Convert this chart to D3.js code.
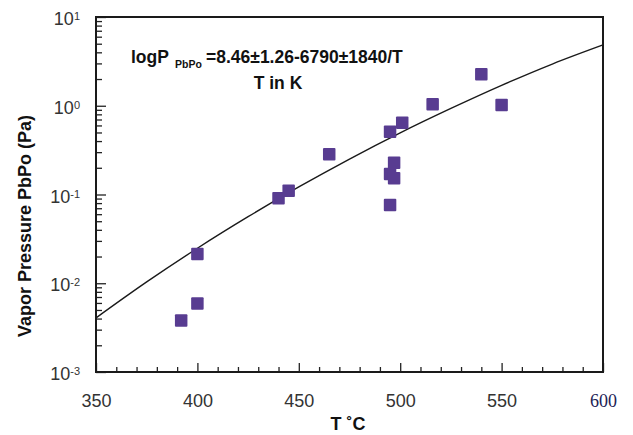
<!DOCTYPE html>
<html>
<head>
<meta charset="utf-8">
<script src="https://cdn.jsdelivr.net/npm/d3@7"></script>
<style>
  body { margin: 0; background: #fff; }
  svg { display: block; font-family: "Liberation Sans", Arial, Helvetica, sans-serif; }
</style>
</head>
<body>
<div id="chart"></div>
<script>
// measured points (T in °C, vapor pressure in Pa)
const tempC    = [392, 400, 400, 440, 445, 465, 495, 501, 516, 540, 550, 497, 495, 497, 495];
const pressure = [0.0038, 0.0059, 0.0214, 0.091, 0.110, 0.284, 0.51, 0.644, 1.04, 2.26, 1.02, 0.228, 0.170, 0.152, 0.076];

// fitted line
const fitT = [350, 375, 400, 425, 450, 475, 500, 525, 550, 575, 600];
const fitP = [0.00407, 0.01035, 0.0248, 0.0562, 0.1216, 0.251, 0.4955, 0.933, 1.698, 2.951, 4.842];

const xTicks = [350, 400, 450, 500, 550, 600];
const yTicks = [1e-3, 1e-2, 1e-1, 1, 10];
const yExp   = ["-3", "-2", "-1", "0", "1"];

const width = 633, height = 435;
const margin = {top: 17, right: 30, bottom: 63, left: 96};

const x = d3.scaleLinear().domain([350, 600]).range([margin.left, width - margin.right]);
const y = d3.scaleLog().domain([1e-3, 10]).range([height - margin.bottom, margin.top]);

const svg = d3.select("#chart").append("svg").attr("width", width).attr("height", height);

// minor ticks
const xMinor = d3.range(350, 601, 10).filter(v => v % 50 !== 0);
svg.append("g").attr("transform", `translate(0,${y(1e-3)})`)
   .call(d3.axisBottom(x).tickValues(xMinor).tickSize(-5).tickFormat(""))
   .call(g => g.select(".domain").remove());

const yMinor = [];
[1e-3, 1e-2, 1e-1, 1].forEach(d => { for (let k = 2; k <= 9; k++) yMinor.push(d * k); });
svg.append("g").attr("transform", `translate(${x(350)},0)`)
   .call(d3.axisLeft(y).tickValues(yMinor).tickSize(-6).tickFormat(""))
   .call(g => g.select(".domain").remove());

// major x axis
svg.append("g").attr("transform", `translate(0,${y(1e-3)})`)
   .call(d3.axisBottom(x).tickValues(xTicks).tickSize(-9).tickPadding(22).tickFormat(d3.format("d")))
   .call(g => g.select(".domain").remove())
   .call(g => g.selectAll("text").attr("font-size", 18).attr("fill", "#333"))
   .call(g => g.selectAll(".tick").filter(d => d === 600).select("text")
      .attr("font-family", "'Liberation Serif', 'Times New Roman', serif").attr("fill", "#1c2255"));

// major y axis with powers of ten
const yAx = svg.append("g").attr("transform", `translate(${x(350)},0)`)
   .call(d3.axisLeft(y).tickValues(yTicks).tickSize(-10).tickPadding(16).tickFormat(""))
   .call(g => g.select(".domain").remove());
yAx.selectAll(".tick text").each(function(d, i) {
  const t = d3.select(this).attr("dy", "0.42em").attr("font-size", 18).attr("fill", "#333");
  t.append("tspan").text("10");
  t.append("tspan").attr("font-size", 11).attr("dy", -5).text(yExp[i]);
});

svg.selectAll(".tick line").attr("stroke", "#222").attr("stroke-width", 1.3);

// frame
svg.append("rect")
   .attr("x", x(350)).attr("y", y(10))
   .attr("width", x(600) - x(350)).attr("height", y(1e-3) - y(10))
   .attr("fill", "none").attr("stroke", "#1a1a1a").attr("stroke-width", 2);

// fitted curve
const line = d3.line().x((d, i) => x(fitT[i])).y(d => y(d)).curve(d3.curveMonotoneX);
svg.append("path").datum(fitP)
   .attr("fill", "none").attr("stroke", "#1a1a1a").attr("stroke-width", 1.4).attr("d", line);

// data squares
const sq = 12.5;
svg.append("g").selectAll("rect").data(pressure).join("rect")
   .attr("x", (d, i) => x(tempC[i]) - sq / 2)
   .attr("y", d => y(d) - sq / 2)
   .attr("width", sq).attr("height", sq).attr("rx", 1)
   .attr("fill", "#583c91");

// equation annotation
const eq = svg.append("text").attr("x", 131).attr("y", 63)
   .attr("font-size", 17.5).attr("font-weight", "bold").attr("fill", "#111");
eq.append("tspan").text("logP");
eq.append("tspan").attr("x", 175).attr("dy", 5).attr("font-size", 10.5).text("PbPo");
eq.append("tspan").attr("x", 206).attr("dy", -5).text("=8.46±1.26-6790±1840/T");

svg.append("text").attr("x", 278).attr("y", 89).attr("text-anchor", "middle")
   .attr("font-size", 17.5).attr("font-weight", "bold").attr("fill", "#111").text("T in K");

// axis titles
svg.append("text").attr("x", 348).attr("y", 430).attr("text-anchor", "middle")
   .attr("font-size", 18).attr("font-weight", "bold").attr("fill", "#111").text("T ˚C");

svg.append("text").attr("transform", "translate(31,226) rotate(-90)").attr("text-anchor", "middle")
   .attr("font-size", 18).attr("font-weight", "bold").attr("fill", "#111").text("Vapor Pressure PbPo (Pa)");
</script>
</body>
</html>
